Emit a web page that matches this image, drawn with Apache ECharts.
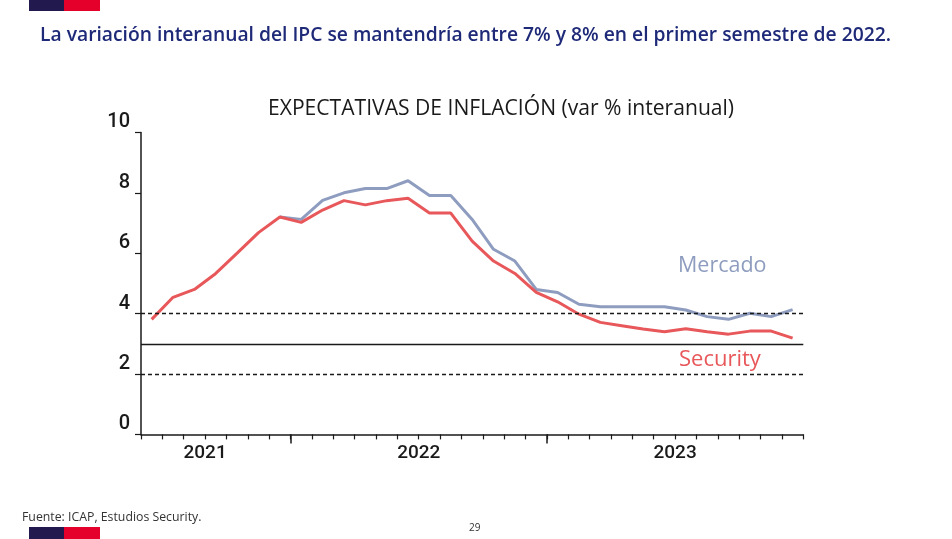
<!DOCTYPE html>
<html>
<head>
<meta charset="utf-8">
<script src="https://cdn.jsdelivr.net/npm/echarts@6/dist/echarts.min.js"></script>
<style>
html,body{margin:0;padding:0;background:#fff;}
#c{width:952px;height:539px;}
</style>
</head>
<body>
<div id="c"></div>
<script>
const months = ['Jun-21','Jul-21','Ago-21','Sep-21','Oct-21','Nov-21','Dic-21',
  'Ene-22','Feb-22','Mar-22','Abr-22','May-22','Jun-22','Jul-22','Ago-22','Sep-22','Oct-22','Nov-22','Dic-22',
  'Ene-23','Feb-23','Mar-23','Abr-23','May-23','Jun-23','Jul-23','Ago-23','Sep-23','Oct-23','Nov-23','Dic-23'];
const security = [3.81,4.54,4.80,5.33,6.00,6.68,7.20,
  7.02,7.43,7.74,7.60,7.74,7.82,7.33,7.33,6.40,5.74,5.33,4.70,
  4.39,3.98,3.71,3.60,3.49,3.40,3.50,3.40,3.32,3.42,3.42,3.19];
const mercado = [null,null,null,null,null,null,7.20,
  7.12,7.75,8.00,8.14,8.14,8.40,7.91,7.91,7.12,6.13,5.74,4.80,
  4.70,4.31,4.23,4.23,4.23,4.23,4.12,3.90,3.81,4.01,3.90,4.13];
const yearLabels = {3:'2021',13:'2022',25:'2023'};
const yearBoundaries = [7,19];
const refLines = [{v:4,type:'dashed'},{v:3,type:'solid'},{v:2,type:'dashed'}];

const chart = echarts.init(document.getElementById('c'));
const textFont = '"Open Sans", "Noto Sans", sans-serif';
chart.setOption({
  animation:false,
  backgroundColor:'#fff',
  grid:{left:141,right:148.7,top:132.4,bottom:104.6,containLabel:false},
  xAxis:[{
    type:'category',data:months,boundaryGap:true,
    axisLine:{lineStyle:{color:'#1a1a1a',width:1.5}},
    axisTick:{show:true,length:5,interval:0,lineStyle:{color:'#1a1a1a',width:1.2}},
    axisLabel:{show:false},splitLine:{show:false}
  },{
    type:'value',min:0,max:31,position:'bottom',
    axisLine:{show:false},
    axisTick:{show:true,customValues:yearBoundaries,length:9,lineStyle:{color:'#1a1a1a',width:1.5}},
    axisLabel:{show:true,customValues:Object.keys(yearLabels).map(Number),
      formatter:v=>yearLabels[v]||'',margin:9,fontSize:19,fontWeight:500,color:'#1a1a1a',
      fontFamily:'Roboto, sans-serif'},
    splitLine:{show:false}
  }],
  yAxis:{
    type:'value',min:0,max:10,interval:2,
    axisLine:{show:true,lineStyle:{color:'#1a1a1a',width:1.5}},
    axisTick:{show:true,length:6,lineStyle:{color:'#1a1a1a',width:1.2}},
    axisLabel:{fontSize:20,fontWeight:500,color:'#1a1a1a',margin:11,verticalAlign:'bottom',fontFamily:'Roboto, sans-serif'},
    splitLine:{show:false}
  },
  series:[{
    name:'Security',type:'line',data:security,symbol:'none',
    lineStyle:{color:'#E8575A',width:3},itemStyle:{color:'#E8575A'},z:3,
    markLine:{silent:true,symbol:'none',label:{show:false},
      data:refLines.map(r=>({yAxis:r.v,lineStyle:{color:'#1a1a1a',type:r.type==='dashed'?[4,3]:'solid',width:1.3}}))}
  },{
    name:'Mercado',type:'line',data:mercado,symbol:'none',
    lineStyle:{color:'#8E9DBF',width:3},itemStyle:{color:'#8E9DBF'},z:2
  }],
  graphic:[
    {type:'rect',shape:{x:29,y:0,width:35,height:11},style:{fill:'#221A4F'}},
    {type:'rect',shape:{x:64,y:0,width:36,height:11},style:{fill:'#E5002B'}},
    {type:'rect',shape:{x:29,y:527,width:35,height:12},style:{fill:'#221A4F'}},
    {type:'rect',shape:{x:64,y:527,width:36,height:12},style:{fill:'#E5002B'}},
    {type:'text',left:40,top:26,style:{text:'La variación interanual del IPC se mantendría entre 7% y 8% en el primer semestre de 2022.',
      fill:'#1E2A78',font:'600 19.3px '+textFont}},
    {type:'text',left:268,top:98,style:{text:'EXPECTATIVAS DE INFLACIÓN (var % interanual)',
      fill:'#1a1a1a',font:'400 21.1px '+textFont}},
    {type:'text',left:678,top:255,style:{text:'Mercado',fill:'#8E9DBF',font:'400 21.5px '+textFont}},
    {type:'text',left:679,top:349,style:{text:'Security',fill:'#E8575A',font:'400 22px '+textFont}},
    {type:'text',left:22,top:511,style:{text:'Fuente: ICAP, Estudios Security.',fill:'#333',font:'400 12.3px '+textFont}},
    {type:'text',left:469,top:523,style:{text:'29',fill:'#333',font:'400 10px '+textFont}}
  ]
});
</script>
</body>
</html>
